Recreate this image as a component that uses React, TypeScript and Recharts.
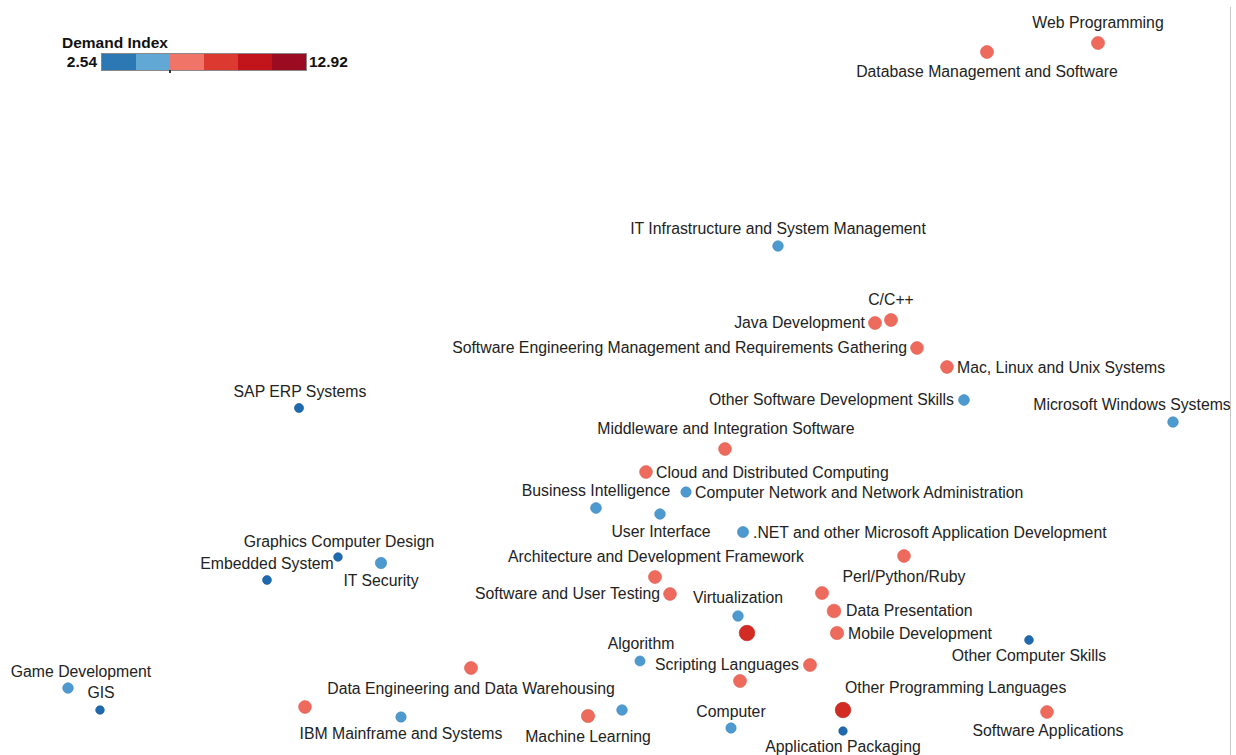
import React from 'react'
import { ScatterChart, Scatter, XAxis, YAxis } from 'recharts'

// skill map: position on the 2D similarity layout + demand index
const skills = [
  'Web Programming',
  'Database Management and Software',
  'IT Infrastructure and System Management',
  'C/C++',
  'Java Development',
  'Software Engineering Management and Requirements Gathering',
  'Mac, Linux and Unix Systems',
  'Other Software Development Skills',
  'Microsoft Windows Systems',
  'SAP ERP Systems',
  'Middleware and Integration Software',
  'Cloud and Distributed Computing',
  'Business Intelligence',
  'Computer Network and Network Administration',
  'User Interface',
  '.NET and other Microsoft Application Development',
  'Graphics Computer Design',
  'Embedded System',
  'IT Security',
  'Architecture and Development Framework',
  'Software and User Testing',
  'Virtualization',
  'Perl/Python/Ruby',
  '',
  'Data Presentation',
  'Mobile Development',
  '',
  'Other Computer Skills',
  'Algorithm',
  'Scripting Languages',
  '',
  'Data Engineering and Data Warehousing',
  'Game Development',
  'GIS',
  'Other Programming Languages',
  '',
  'IBM Mainframe and Systems',
  'Machine Learning',
  '',
  'Computer',
  'Application Packaging',
  'Software Applications',
]

const xValues = [
  109.8, 98.7, 77.8, 89.1, 87.5, 91.7, 94.7, 96.4, 117.3, 29.9, 72.5, 64.6, 59.6, 68.6,
  66.0, 74.3, 33.8, 26.7, 38.1, 65.5, 67.0, 73.8, 90.4, 82.2, 83.4, 83.7, 74.7, 102.9,
  64.0, 81.0, 74.0, 47.1, 6.8, 10.0, 84.3, 30.5, 40.1, 58.8, 62.2, 73.1, 84.3, 104.7,
]

const yValues = [
  71.2, 70.3, 50.9, 43.5, 43.2, 40.7, 38.8, 35.5, 33.3, 34.7, 30.6, 28.3, 24.7, 26.3,
  24.1, 22.3, 19.8, 17.5, 19.2, 17.8, 16.1, 13.9, 19.9, 16.2, 14.4, 12.2, 12.2, 11.5,
  9.4, 9.0, 7.4, 8.7, 6.7, 4.5, 4.5, 4.8, 3.8, 3.9, 4.5, 2.7, 2.4, 4.3,
]

const demand = [
  7.0, 7.0, 5.0, 7.0, 7.0, 6.8, 6.8, 5.2, 5.0, 3.8, 6.8, 6.8, 5.2, 4.8,
  5.0, 5.4, 3.4, 3.6, 5.6, 7.0, 6.8, 5.0, 6.8, 7.0, 7.6, 7.2, 9.1, 3.5,
  4.6, 7.0, 7.0, 7.0, 5.0, 3.4, 9.1, 6.8, 4.8, 7.2, 5.0, 4.8, 3.3, 6.8,
]

const demandMin = 2.54
const demandMax = 12.92
const legendColors = ['#2b78b4', '#62a8d4', '#f07468', '#dc3a30', '#c1141b', '#9b0b21']
const pointColors = ['#1f6aae', '#4c9acf', '#ee6a5c', '#d22b23', '#bd1219', '#990b1f']
const strokeColors = ['#175a96', '#3f88bb', '#de5a4c', '#b81e18', '#9e0c12', '#7a0818']

// label placement around each dot (dx, dy from the dot centre)
const labelPos: Record<string, [number, number, 'start' | 'middle' | 'end']> = {
  'Web Programming': [0, -21, 'middle'],
  'Database Management and Software': [0, 19, 'middle'],
  'IT Infrastructure and System Management': [0, -18, 'middle'],
  'C/C++': [0, -21, 'middle'],
  'Java Development': [-10, -1, 'end'],
  'Software Engineering Management and Requirements Gathering': [-10, -1, 'end'],
  'Mac, Linux and Unix Systems': [10, 0, 'start'],
  'Other Software Development Skills': [-10, -1, 'end'],
  'Microsoft Windows Systems': [-41, -18, 'middle'],
  'SAP ERP Systems': [1, -17, 'middle'],
  'Middleware and Integration Software': [1, -21, 'middle'],
  'Cloud and Distributed Computing': [10, 0, 'start'],
  'Business Intelligence': [0, -18, 'middle'],
  'Computer Network and Network Administration': [9, 0, 'start'],
  'User Interface': [1, 17, 'middle'],
  '.NET and other Microsoft Application Development': [10, 0, 'start'],
  'Graphics Computer Design': [1, -16, 'middle'],
  'Embedded System': [0, -17, 'middle'],
  'IT Security': [0, 17, 'middle'],
  'Architecture and Development Framework': [1, -21, 'middle'],
  'Software and User Testing': [-10, -1, 'end'],
  'Virtualization': [0, -19, 'middle'],
  'Perl/Python/Ruby': [0, 20, 'middle'],
  'Data Presentation': [12, -1, 'start'],
  'Mobile Development': [11, 0, 'start'],
  'Other Computer Skills': [0, 15, 'middle'],
  'Algorithm': [1, -18, 'middle'],
  'Scripting Languages': [-11, -1, 'end'],
  'Data Engineering and Data Warehousing': [0, 20, 'middle'],
  'Game Development': [13, -17, 'middle'],
  'GIS': [1, -18, 'middle'],
  'Other Programming Languages': [2, -23, 'start'],
  'IBM Mainframe and Systems': [0, 16, 'middle'],
  'Machine Learning': [0, 20, 'middle'],
  'Computer': [0, -17, 'middle'],
  'Application Packaging': [0, 15, 'middle'],
  'Software Applications': [1, 18, 'middle'],
}

const data = skills.map((name, i) => ({ name, x: xValues[i], y: yValues[i], demand: demand[i] }))

const W = 1236
const H = 755
const FONT = 'Arial, "Liberation Sans", sans-serif'

function binOf(d: number) {
  const step = (demandMax - demandMin) / legendColors.length
  return Math.min(legendColors.length - 1, Math.max(0, Math.floor((d - demandMin) / step)))
}

const SkillDot = (props: any) => {
  const { cx, cy, payload } = props
  if (cx == null || cy == null) return null
  const r = 0.6 * payload.demand + 2.3
  const bin = binOf(payload.demand)
  const pos = labelPos[payload.name]
  return (
    <g>
      <circle
        cx={cx}
        cy={cy}
        r={r}
        fill={pointColors[bin]}
        stroke={strokeColors[bin]}
        strokeWidth={1}
        strokeOpacity={0.6}
      />
      {payload.name && pos && (
        <text
          x={cx + pos[0]}
          y={cy + pos[1]}
          textAnchor={pos[2]}
          dominantBaseline="central"
          style={{ fontSize: 15.8, fill: '#222', fontFamily: FONT }}
        >
          {payload.name}
        </text>
      )}
    </g>
  )
}

const DemandLegend = () => (
  <div style={{ position: 'absolute', left: 62, top: 34, fontFamily: FONT, color: '#111' }}>
    <div style={{ fontSize: 15.5, fontWeight: 700, lineHeight: '18px' }}>Demand Index</div>
    <div style={{ position: 'relative', height: 20 }}>
      <span style={{ position: 'absolute', left: -27, width: 62, top: 1, fontSize: 15.5, fontWeight: 700, textAlign: 'right', lineHeight: '18px' }}>
        2.54
      </span>
      <div style={{ position: 'absolute', left: 39, top: 1, display: 'flex', border: '1px solid #888' }}>
        {legendColors.map((c) => (
          <div key={c} style={{ width: 34, height: 16, background: c }} />
        ))}
      </div>
      <div style={{ position: 'absolute', left: 107, top: 18, width: 2, height: 3, background: '#333' }} />
      <span style={{ position: 'absolute', left: 247, top: 1, fontSize: 15.5, fontWeight: 700, lineHeight: '18px' }}>
        12.92
      </span>
    </div>
  </div>
)

export default function App() {
  return (
    <div style={{ position: 'absolute', left: 0, top: 0, width: W, height: H, background: '#fff' }}>
      <ScatterChart width={W} height={H} margin={{ top: 0, right: 0, bottom: 0, left: 0 }}>
        <XAxis type="number" dataKey="x" domain={[0, 123.6]} hide allowDataOverflow />
        <YAxis type="number" dataKey="y" domain={[0, 75.5]} hide allowDataOverflow />
        <Scatter data={data} shape={<SkillDot />} isAnimationActive={false} />
      </ScatterChart>
      <div style={{ position: 'absolute', left: 1230, top: 7, width: 1, height: H - 7, background: '#c8c8c8' }} />
      <DemandLegend />
    </div>
  )
}
